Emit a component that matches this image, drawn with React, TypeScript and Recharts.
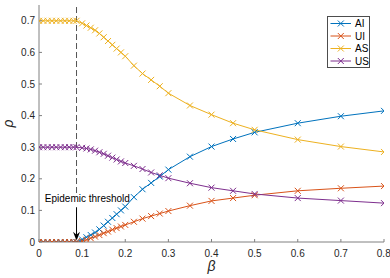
import React from 'react';
import { LineChart, Line, XAxis, YAxis, ReferenceLine, Legend } from 'recharts';

const betas = [0, 0.01, 0.02, 0.03, 0.04, 0.05, 0.06, 0.07, 0.08, 0.087, 0.1, 0.11, 0.12, 0.13, 0.14, 0.15, 0.16, 0.17, 0.18, 0.19, 0.2, 0.22, 0.24, 0.26, 0.28, 0.3, 0.35, 0.4, 0.45, 0.5, 0.6, 0.7, 0.8];
const AI = [0, 0, 0, 0, 0, 0, 0, 0, 0, 0, 0.008, 0.015, 0.022, 0.03, 0.04, 0.052, 0.064, 0.076, 0.088, 0.1, 0.112, 0.142, 0.167, 0.187, 0.207, 0.229, 0.27, 0.302, 0.326, 0.347, 0.376, 0.398, 0.415];
const UI = [0, 0, 0, 0, 0, 0, 0, 0, 0, 0, 0.003, 0.007, 0.012, 0.017, 0.022, 0.028, 0.033, 0.039, 0.044, 0.049, 0.054, 0.064, 0.074, 0.082, 0.09, 0.098, 0.115, 0.13, 0.139, 0.148, 0.162, 0.17, 0.177];
const AS = [0.7, 0.7, 0.7, 0.7, 0.7, 0.7, 0.7, 0.7, 0.7, 0.7, 0.692, 0.685, 0.678, 0.67, 0.66, 0.648, 0.636, 0.624, 0.612, 0.6, 0.588, 0.558, 0.533, 0.513, 0.493, 0.471, 0.432, 0.403, 0.376, 0.355, 0.324, 0.302, 0.285];
const US = [0.3, 0.3, 0.3, 0.3, 0.3, 0.3, 0.3, 0.3, 0.3, 0.3, 0.298, 0.296, 0.293, 0.289, 0.284, 0.279, 0.273, 0.267, 0.261, 0.255, 0.25, 0.241, 0.231, 0.22, 0.211, 0.202, 0.186, 0.172, 0.162, 0.152, 0.139, 0.131, 0.123];

const xTicks = [0, 0.1, 0.2, 0.3, 0.4, 0.5, 0.6, 0.7, 0.8];
const yTicks = [0, 0.1, 0.2, 0.3, 0.4, 0.5, 0.6, 0.7];
const xDomain = [0, 0.8];
const yDomain = [0, 0.75];
const threshold = 0.087;
const thresholdText = 'Epidemic threshold';

const seriesNames = ['AI', 'UI', 'AS', 'US'];
const seriesValues = [AI, UI, AS, US];
const seriesColors = ['#0072BD', '#D95319', '#EDB120', '#7E2F8E'];

const data = betas.map((b, i) => {
  const row: any = { beta: b };
  seriesNames.forEach((n, k) => (row[n] = seriesValues[k][i]));
  return row;
});

const FONT = '"Liberation Sans", Arial, Helvetica, sans-serif';
const AXIS_COLOR = '#808080';
const TEXT_COLOR = '#262626';

const xPath = (cx: number, cy: number, s: number) =>
  `M${cx - s},${cy - s}L${cx + s},${cy + s}M${cx - s},${cy + s}L${cx + s},${cy - s}`;

const makeDot = (color: string) => (p: any) => (
  <path key={`d-${p.index}`} d={xPath(p.cx, p.cy, 3)} stroke={color} strokeWidth={1} fill="none" />
);

const ArrowShape = (props: any) => {
  const { x1, y1, x2, y2 } = props;
  const x = (x1 + x2) / 2;
  const top = Math.min(y1, y2);
  const tip = Math.max(y1, y2);
  return (
    <g>
      <text x={x - 31.7} y={top - 5} fontSize={10} fontFamily={FONT} fill="#000">
        {thresholdText}
      </text>
      <line x1={x} y1={top} x2={x} y2={tip - 4} stroke="#000" strokeWidth={1} />
      <polygon points={`${x},${tip} ${x - 3.5},${tip - 9} ${x},${tip - 6} ${x + 3.5},${tip - 9}`} fill="#000" />
    </g>
  );
};

const LegendContent = (props: any) => {
  const payload = [...(props.payload || [])].sort(
    (a: any, b: any) => seriesNames.indexOf(a.value) - seriesNames.indexOf(b.value)
  );
  return (
    <div
      style={{
        width: 43,
        height: 52,
        boxSizing: 'border-box',
        border: '1px solid #4d4d4d',
        background: '#fff',
      }}
    >
      <svg width={41} height={50} style={{ display: 'block' }}>
        {payload.map((e: any, i: number) => {
          const y = 6.5 + 12.5 * i;
          return (
            <g key={e.value}>
              <line x1={2.5} y1={y} x2={23} y2={y} stroke={e.color} strokeWidth={1} />
              <path d={xPath(12.8, y, 3)} stroke={e.color} strokeWidth={1} fill="none" />
              <text x={27} y={y + 3.6} fontSize={10} fontFamily={FONT} fill="#000">
                {e.value}
              </text>
            </g>
          );
        })}
      </svg>
    </div>
  );
};

const noTick = () => <g />;

export default function App() {
  return (
    <div style={{ position: 'absolute', left: 0, top: 0, width: 390, height: 278, background: '#fff' }}>
      <LineChart
        width={390}
        height={278}
        data={data}
        margin={{ top: 5, right: 6, bottom: 0, left: 0 }}
        style={{ fontFamily: FONT }}
      >
        <XAxis
          dataKey="beta"
          type="number"
          domain={xDomain}
          ticks={xTicks}
          allowDataOverflow
          height={36}
          tickSize={-3}
          tickMargin={11}
          stroke={AXIS_COLOR}
          tick={{ fill: TEXT_COLOR, fontSize: 10, fontFamily: FONT }}
          label={{
            content: (p: any) => {
              const vb = p.viewBox;
              return (
                <text x={vb.x + vb.width / 2} y={271} textAnchor="middle" fontSize={14} fontStyle="italic" fontFamily={FONT} fill={TEXT_COLOR}>
                  β
                </text>
              );
            },
          }}
        />
        <XAxis
          xAxisId="top"
          orientation="top"
          dataKey="beta"
          type="number"
          domain={xDomain}
          ticks={xTicks}
          allowDataOverflow
          height={0}
          tickSize={-3}
          stroke={AXIS_COLOR}
          tick={noTick}
        />
        <YAxis
          type="number"
          domain={yDomain}
          ticks={yTicks}
          allowDataOverflow
          width={39}
          tickSize={-3}
          tickMargin={7}
          stroke={AXIS_COLOR}
          tick={{ fill: TEXT_COLOR, fontSize: 10, fontFamily: FONT }}
          label={{
            content: (p: any) => {
              const vb = p.viewBox;
              const cy = vb.y + vb.height / 2;
              return (
                <text x={13} y={cy} textAnchor="middle" fontSize={14} fontStyle="italic" fontFamily={FONT} fill={TEXT_COLOR} transform={`rotate(-90 13 ${cy})`}>
                  ρ
                </text>
              );
            },
          }}
        />
        <YAxis
          yAxisId="right"
          orientation="right"
          type="number"
          domain={yDomain}
          ticks={yTicks}
          allowDataOverflow
          width={0}
          tickSize={-3}
          stroke={AXIS_COLOR}
          tick={noTick}
        />
        <ReferenceLine
          segment={[{ x: threshold, y: 0.155 }, { x: threshold, y: 0.75 }]}
          stroke="#555"
          strokeWidth={1}
          strokeDasharray="6 3"
        />
        <ReferenceLine
          segment={[{ x: threshold, y: 0.11 }, { x: threshold, y: 0.004 }]}
          shape={ArrowShape}
        />
        {seriesNames.map((n, k) => (
          <Line
            key={n}
            dataKey={n}
            name={n}
            type="linear"
            stroke={seriesColors[k]}
            strokeWidth={1}
            dot={makeDot(seriesColors[k])}
            activeDot={false}
            isAnimationActive={false}
          />
        ))}
        <Legend
          layout="vertical"
          align="center"
          verticalAlign="middle"
          content={LegendContent}
          wrapperStyle={{ left: 327, top: 16, width: 43, height: 52 }}
        />
      </LineChart>
    </div>
  );
}
